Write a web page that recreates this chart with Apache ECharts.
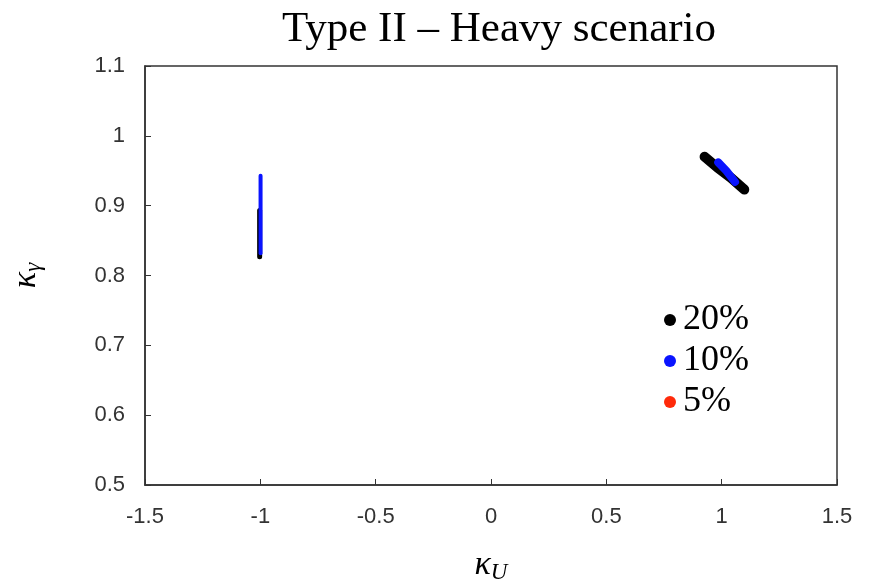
<!DOCTYPE html>
<html><head><meta charset="utf-8">
<script src="https://cdn.jsdelivr.net/npm/echarts@6/dist/echarts.min.js"></script>
<style>html,body{margin:0;padding:0;background:#fff}#c{width:872px;height:581px}</style>
</head><body><div id="c"></div>
<script>
const xTicks = [-1.5, -1, -0.5, 0, 0.5, 1, 1.5];
const yTicks = [0.5, 0.6, 0.7, 0.8, 0.9, 1, 1.1];
const seriesNames = ['20%', '10%', '5%'];
const seriesColors = ['#000000', '#0a14ff', '#ff2a0a'];
// black (20%) regions
const black20Left = [[-1.003, 0.827], [-1.003, 0.893]];
const black20Right = [[0.926, 0.970], [0.98, 0.955], [1.04, 0.940], [1.098, 0.923]];
// blue (10%) regions
const blue10Left = [[-0.999, 0.832], [-0.999, 0.943]];
const blue10Right = [[0.985, 0.962], [1.02, 0.950], [1.058, 0.934]];
// red (5%) region: not visible
const red5 = [];

const serif = '"Liberation Serif","DejaVu Serif",serif';
const sans = '"Liberation Sans","DejaVu Sans",sans-serif';

function line(name, data, color, width) {
  return {name, type:'line', data, symbol:'none', z: 3,
    lineStyle:{color, width, cap:'round'}, itemStyle:{color}, silent:true, animation:false};
}
const chart = echarts.init(document.getElementById('c'));
chart.setOption({
  animation:false,
  title:{text:'Type II – Heavy scenario', left:494, top:3, textAlign:'center',
    textStyle:{fontFamily:serif, fontSize:43, fontWeight:'normal', color:'#000'}},
  grid:{left:145, right:35, top:66, bottom:96, outerBoundsMode:'none', containLabel:false,
    show:true, borderColor:'#333', borderWidth:1.5, backgroundColor:'#fff'},
  legend:{orient:'vertical', left:659, top:297, itemGap:5, icon:'circle', itemWidth:12, itemHeight:12,
    data:seriesNames.map((n,i)=>({name:n, itemStyle:{color:seriesColors[i]}})),
    textStyle:{fontFamily:serif, fontSize:36, lineHeight:32, color:'#000', padding:[0,0,0,2]}},
  xAxis:{type:'value', min:-1.5, max:1.5, interval:0.5,
    axisLine:{show:true, onZero:false, lineStyle:{color:'#333', width:1.5}},
    axisTick:{show:true, inside:true, length:6, lineStyle:{color:'#333'}},
    splitLine:{show:false},
    axisLabel:{margin:21, fontFamily:sans, fontSize:22, color:'#333', formatter:v=>String(v)},
    name:'{k|κ}{s|U}', nameLocation:'middle', nameGap:62,
    nameTextStyle:{rich:{k:{fontFamily:serif, fontStyle:'italic', fontSize:34, color:'#000'},
      s:{fontFamily:serif, fontStyle:'italic', fontSize:23, color:'#000', padding:[14,0,0,0]}}}},
  yAxis:{type:'value', min:0.5, max:1.1, interval:0.1,
    axisLine:{show:true, onZero:false, lineStyle:{color:'#333', width:1.5}},
    axisTick:{show:true, inside:true, length:6, lineStyle:{color:'#333'}},
    splitLine:{show:false},
    axisLabel:{margin:20, fontFamily:sans, fontSize:22, color:'#333', formatter:v=>String(Math.round(v*10)/10)},
    name:'{k|κ}{s|γ}', nameLocation:'middle', nameGap:100, nameRotate:90,
    nameTextStyle:{rich:{k:{fontFamily:serif, fontStyle:'italic', fontSize:34, color:'#000'},
      s:{fontFamily:serif, fontStyle:'italic', fontSize:23, color:'#000', padding:[14,0,0,0]}}}},
  series:[
    line('20%', black20Left, seriesColors[0], 5),
    line('20%', black20Right, seriesColors[0], 10),
    line('10%', blue10Left, seriesColors[1], 4),
    line('10%', blue10Right, seriesColors[1], 8),
    line('5%', red5, seriesColors[2], 4)
  ]
});
</script></body></html>
